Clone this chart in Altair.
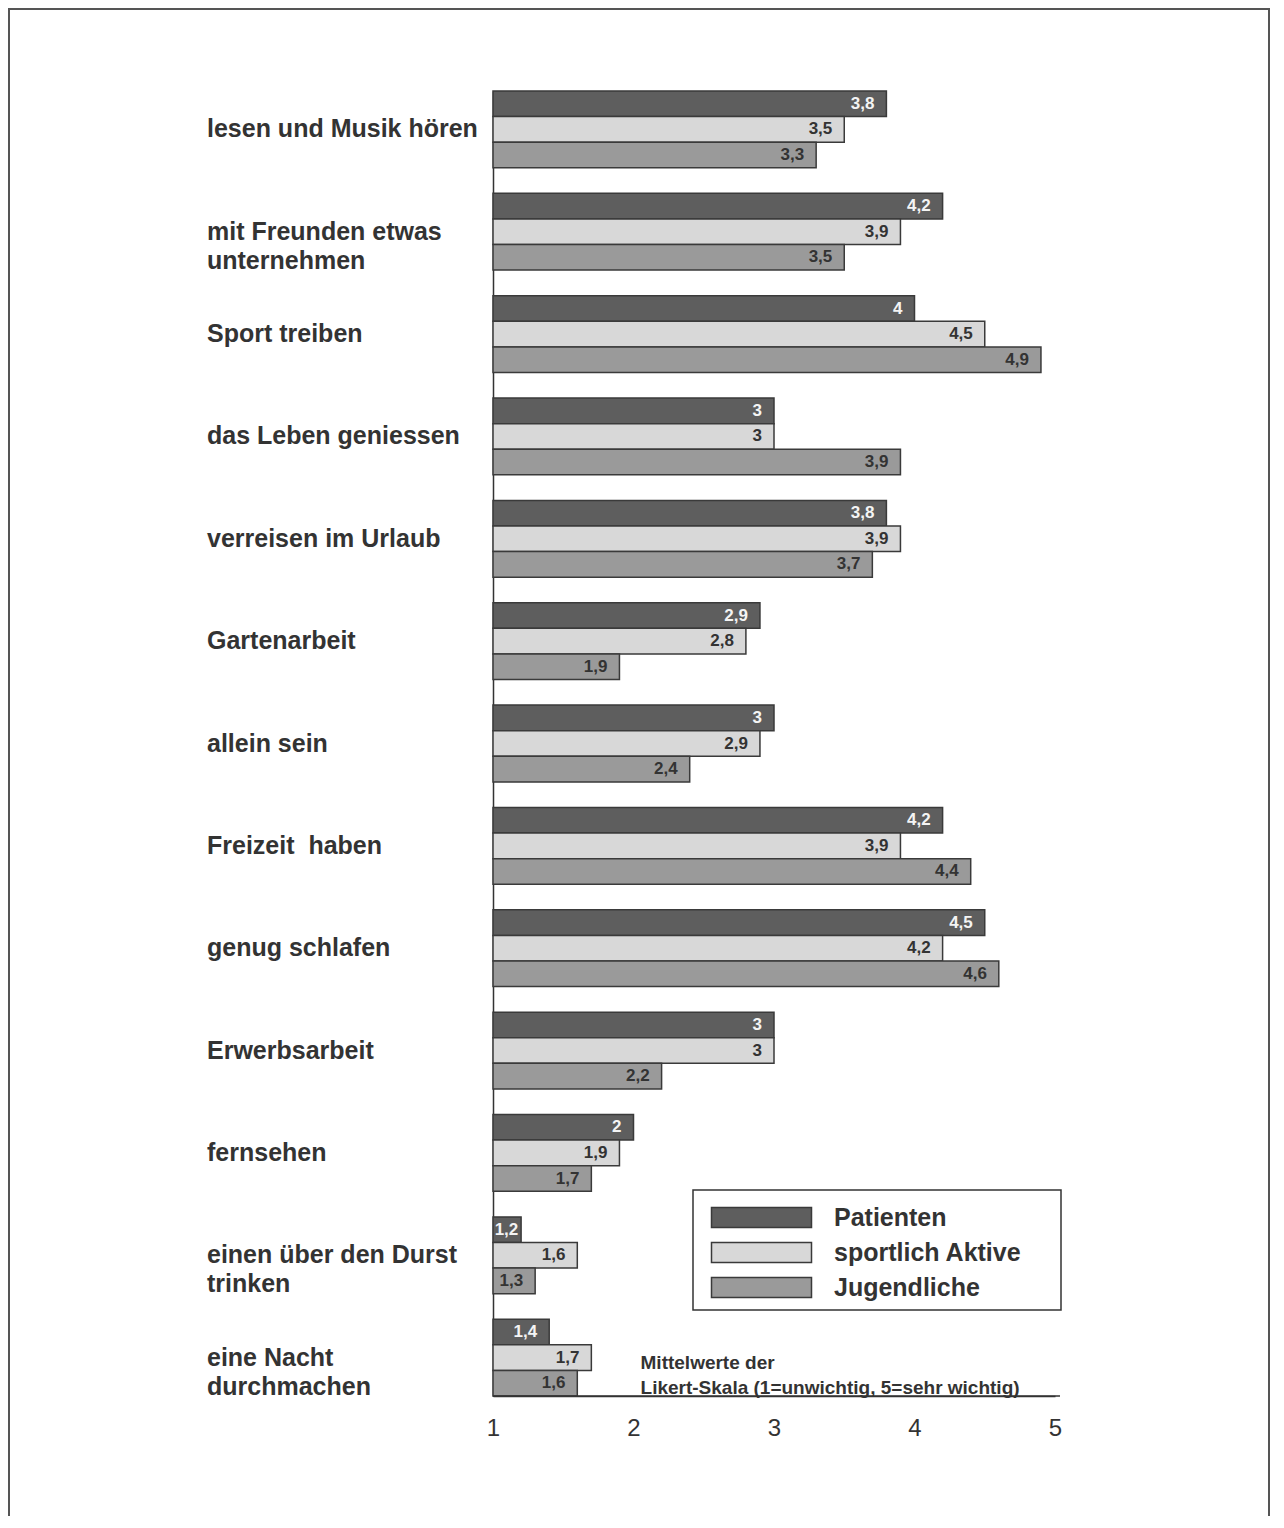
import altair as alt
import pandas as pd

categories = [
    "lesen und Musik hören",
    "mit Freunden etwas unternehmen",
    "Sport treiben",
    "das Leben geniessen",
    "verreisen im Urlaub",
    "Gartenarbeit",
    "allein sein",
    "Freizeit  haben",
    "genug schlafen",
    "Erwerbsarbeit",
    "fernsehen",
    "einen über den Durst trinken",
    "eine Nacht durchmachen",
]
cat_labels = [
    "lesen und Musik hören",
    "mit Freunden etwas\nunternehmen",
    "Sport treiben",
    "das Leben geniessen",
    "verreisen im Urlaub",
    "Gartenarbeit",
    "allein sein",
    "Freizeit \u00a0haben",
    "genug schlafen",
    "Erwerbsarbeit",
    "fernsehen",
    "einen über den Durst\ntrinken",
    "eine Nacht\ndurchmachen",
]
series = ["Patienten", "sportlich Aktive", "Jugendliche"]
patienten = [3.8, 4.2, 4.0, 3.0, 3.8, 2.9, 3.0, 4.2, 4.5, 3.0, 2.0, 1.2, 1.4]
aktive = [3.5, 3.9, 4.5, 3.0, 3.9, 2.8, 2.9, 3.9, 4.2, 3.0, 1.9, 1.6, 1.7]
jugend = [3.3, 3.5, 4.9, 3.9, 3.7, 1.9, 2.4, 4.4, 4.6, 2.2, 1.7, 1.3, 1.6]
colors = ["#5e5e5e", "#d8d8d8", "#9a9a9a"]
x_ticks = [1, 2, 3, 4, 5]
note_text = "Mittelwerte der\nLikert-Skala (1=unwichtig, 5=sehr wichtig)"


def fmt(v):
    s = ("%g" % v)
    return s.replace(".", ",")


rows = []
for i, c in enumerate(categories):
    for s, vals in zip(series, [patienten, aktive, jugend]):
        rows.append({"cat": c, "series": s, "value": vals[i], "label": fmt(vals[i])})
df = pd.DataFrame(rows)
lab_df = pd.DataFrame({"cat": categories, "text": cat_labels})

W, H = 562, 1305
FONT = "Liberation Sans"
DARK = "#333333"

y_enc = alt.Y("cat:N", sort=categories,
              scale=alt.Scale(paddingInner=0.25, paddingOuter=0),
              axis=alt.Axis(labels=False, ticks=False, title=None,
                            domainColor=DARK, domainWidth=1.5))
x_enc = alt.X("value:Q", scale=alt.Scale(domain=[1, 5], nice=False, zero=False),
              axis=alt.Axis(values=x_ticks, format="d", ticks=False, grid=False, title=None,
                            labelFont=FONT, labelFontSize=24, labelColor=DARK,
                            labelPadding=20, domainColor=DARK, domainWidth=1.5,
                            labelFlush=False))
yoff = alt.YOffset("series:N", sort=series, scale=alt.Scale(paddingInner=0, paddingOuter=0))

legend_box = alt.Chart(pd.DataFrame({"a": [0]})).mark_rect(
    fill="white", stroke=DARK, strokeWidth=1.5).encode(
    x=alt.value(200), x2=alt.value(568), y=alt.value(1099), y2=alt.value(1219))

bars = alt.Chart(df).mark_bar(stroke="#3a3a3a", strokeWidth=1.5, orient="horizontal").encode(
    y=y_enc,
    x=x_enc,
    x2=alt.datum(1),
    yOffset=yoff,
    color=alt.Color("series:N", sort=series,
                    scale=alt.Scale(domain=series, range=colors),
                    legend=alt.Legend(
                        title=None, orient="none", legendX=200, legendY=1099,
                        symbolType="M-5,-1L5,-1L5,1L-5,1Z", symbolSize=400,
                        symbolStrokeColor="#3a3a3a", symbolStrokeWidth=1.5,
                        symbolOpacity=1, symbolOffset=41,
                        labelFont=FONT, labelFontSize=25, labelFontWeight="bold",
                        labelColor=DARK, labelOffset=60, rowPadding=8,
                        padding=15, labelLimit=400,
                    )),
)

vals = alt.Chart(df).transform_calculate(
    tx="max(datum.value - 0.085, 1.18)"
).mark_text(align="right", baseline="middle",
            font=FONT, fontSize=17, fontWeight="bold").encode(
    y=alt.Y("cat:N", sort=categories),
    x="tx:Q",
    yOffset=yoff,
    text="label:N",
    color=alt.condition(alt.datum.series == "Patienten", alt.value("#f4f4f4"), alt.value(DARK)),
)

cat_text = alt.Chart(lab_df).mark_text(align="left", baseline="middle", lineBreak="\n",
                                       lineHeight=29, font=FONT, fontSize=25,
                                       fontWeight="bold", color=DARK).encode(
    y=alt.Y("cat:N", sort=categories),
    x=alt.value(-286),
    text="text:N",
)

note = alt.Chart(pd.DataFrame({"t": [note_text]})).mark_text(
    align="left", baseline="middle", lineBreak="\n", lineHeight=25,
    font=FONT, fontSize=19, fontWeight="bold", color=DARK).encode(
    x=alt.datum(2.05), y=alt.value(1272), text="t:N")

axis_ext = alt.Chart(pd.DataFrame({"a": [0]})).mark_rule(color=DARK, strokeWidth=1.5).encode(
    x=alt.value(0), x2=alt.value(567), y=alt.value(H))

frame = alt.Chart(pd.DataFrame({"a": [0]})).mark_rect(fill=None, stroke="#555555", strokeWidth=2).encode(
    x=alt.value(-484), x2=alt.value(776), y=alt.value(-82), y2=alt.value(1460))

chart = alt.layer(frame, legend_box, bars, vals, cat_text, note, axis_ext).properties(
    width=W, height=H,
    autosize=alt.AutoSizeParams(type="none"),
    padding={"left": 485, "top": 83, "right": 216, "bottom": 120},
    background="white",
).configure_view(stroke=None)

chart.save("out.html", embed_options={"renderer": "svg", "actions": False})
